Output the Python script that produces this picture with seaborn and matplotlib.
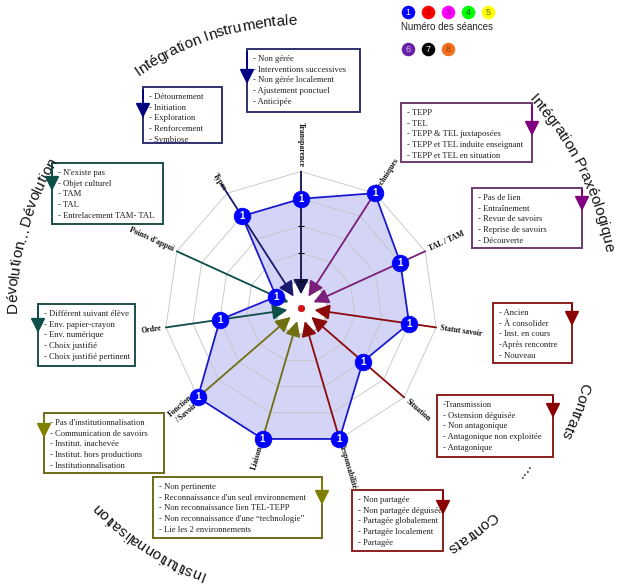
import matplotlib
matplotlib.use("Agg")
import matplotlib.pyplot as plt
import numpy as np
import pandas as pd
import seaborn as sns
from matplotlib.font_manager import FontProperties
from matplotlib.patches import Rectangle, Circle

# radar axes (clockwise from the top) and the values of session 1
axis_names = ["Transparence", "Techniques", "TAL / TAM", "Statut savoir", "Situation",
              "Responsabilité", "Liaisons", "Fonction\n/ Savoir", "Ordre",
              "Points d'appui", "Types"]
seance_1 = [4, 5, 4, 4, 3, 5, 5, 5, 3, 1, 4]
n_levels = 5

# legend of the sessions
seances = [1, 2, 3, 4, 5, 6, 7, 8]
seance_colors = ["#0000ff", "#ff0000", "#ff00ff", "#00ff00", "#ffff00",
                 "#6a1fa8", "#000000", "#f07020"]
seance_txt = ["white", "#900000", "#900090", "#006000", "#707000",
              "#d8b8f0", "white", "#a04000"]

# modalities of each axis (ordered, see the arrows)
items_transparence = ["- Non gérée", "- Interventions successives", "- Non gérée localement",
                      "- Ajustement ponctuel", "- Anticipée"]
items_types = ["- Détournement", "- Initiation", "- Exploration", "- Renforcement", "- Symbiose"]
items_techniques = ["- TEPP", "- TEL", "- TEPP & TEL juxtaposées",
                    "- TEPP et TEL induite enseignant", "- TEPP et TEL en situation"]
items_tal = ["- Pas de lien", "- Entraînement", "- Revue de savoirs", "- Reprise de savoirs",
             "- Découverte"]
items_statut = ["- Ancien", "- À consolider", "- Inst. en cours", "-Après rencontre", "- Nouveau"]
items_situation = ["-Transmission", "- Ostension déguisée", "- Non antagonique",
                   "- Antagonique non exploitée", "- Antagonique"]
items_resp = ["- Non partagée", "- Non partagée déguisée", "- Partagée globalement",
              "- Partagée localement", "- Partagée"]
items_liaisons = ["- Non pertinente", "- Reconnaissance d'un seul environnement",
                  "- Non reconnaissance lien TEL-TEPP",
                  "- Non reconnaissance d'une \u201ctechnologie\u201d", "- Lie les 2 environnements"]
items_fonction = ["- Pas d'institutionnalisation", "- Communication de savoirs",
                  "- Institut. inachevée", "- Institut. hors productions", "- Institutionnalisation"]
items_ordre = ["- Différent suivant élève", "- Env. papier-crayon", "- Env. numérique",
               "- Choix justifié", "- Choix justifié pertinent"]
items_appui = ["- N'existe pas", "- Objet culturel", "- TAM", "- TAL", "- Entrelacement TAM- TAL"]

# curved group titles: text, baseline radius (px), middle angle (deg)
titles = [("Intégration Instrumentale", 283, 108),
          ("Intégration Praxéologique", 309, 26.5),
          ("Contrats", 290, -20.5),
          ("....", 276, -36.5),
          ("Contrats", 279, -52.5),
          ("Institutionnalisation", 281, 237),
          ("Dévolution\u2026Dévolution", 284, 165)]

sns.set_theme(style="white")
plt.rcParams["font.family"] = ["Liberation Sans", "DejaVu Sans"]

W, H = 620, 585
CX, CY = 301, 308          # centre of the radar in pixels
SCALE = 27.3               # pixels per level
L = 6.0

fig = plt.figure(figsize=(6.2, 5.85), dpi=100)
fig.patch.set_facecolor("white")
bg = fig.add_axes([0, 0, 1, 1])
bg.set_xlim(0, W)
bg.set_ylim(H, 0)
bg.axis("off")

half = L * SCALE
ax = fig.add_axes([(CX - half) / W, (H - CY - half) / H, 2 * half / W, 2 * half / H])
ax.set_xlim(-L, L)
ax.set_ylim(-L, L)
ax.axis("off")
ax.patch.set_alpha(0)

n = len(axis_names)
theta = np.radians(90 - np.arange(n) * 360 / n)
grid_c = "#c4c4c4"

# polygon grid
for lev in range(1, n_levels + 1):
    gx = np.append(lev * np.cos(theta), lev * np.cos(theta[0]))
    gy = np.append(lev * np.sin(theta), lev * np.sin(theta[0]))
    ax.plot(gx, gy, color=grid_c, lw=0.6, zorder=1)
for t in theta:
    ax.plot([0, n_levels * np.cos(t)], [0, n_levels * np.sin(t)], color=grid_c, lw=0.6, zorder=1)

# session 1 polygon
vals = np.array(seance_1, dtype=float)
df = pd.DataFrame({"x": vals * np.cos(theta), "y": vals * np.sin(theta)})
closed = pd.concat([df, df.iloc[:1]], ignore_index=True)
ax.fill(closed["x"], closed["y"], color="#d4d4f6", zorder=0.5, lw=0)
sns.lineplot(data=closed, x="x", y="y", sort=False, estimator=None, color="#1a1ad0",
             lw=1.3, ax=ax, zorder=2)

# coloured axes with arrows towards the centre
axis_colors = ["#12124a", "#7a1f7a", "#7a1f7a", "#8b0a0a", "#8b0a0a", "#8b0a0a",
               "#707012", "#707012", "#0f4f4a", "#0f4f4a", "#1a1a70"]
outer_r = [5.0, 5.0, 5.0, 5.0, 5.0, 5.0, 5.0, 5.0, 5.0, 5.0, 5.4]
ax.add_patch(Circle((0, 0), 0.95, facecolor="white", edgecolor="#b4b4b4", lw=0.6, zorder=2.5))
for t, c, ro in zip(theta, axis_colors, outer_r):
    ax.annotate("", xy=(0.5 * np.cos(t), 0.5 * np.sin(t)),
                xytext=(ro * np.cos(t), ro * np.sin(t)),
                arrowprops=dict(arrowstyle="-|>,head_length=0.75,head_width=0.38",
                                color=c, lw=1.3, mutation_scale=12, shrinkA=0, shrinkB=0),
                zorder=3)
for lev in range(1, n_levels):
    ax.plot([lev * np.cos(theta[0])], [lev * np.sin(theta[0])], marker="_", ms=4,
            color="black", mew=0.8, zorder=3)

# axis labels
for name, t in zip(axis_names, theta):
    deg = (np.degrees(t) + 180) % 360 - 180
    r = 5.15
    if -89 < deg < 89:
        rot, ha = deg, "left"
    else:
        rot, ha = deg - 180 if deg > 0 else deg + 180, "right"
    ax.text(r * np.cos(t), r * np.sin(t), name, rotation=rot, rotation_mode="anchor",
            ha=ha, va="center", ma="center", fontsize=5.6, fontweight="bold",
            family=["Liberation Serif", "DejaVu Serif"], color="#111111", zorder=4)

# session markers
sns.scatterplot(data=df, x="x", y="y", s=145, color="#0000ff", edgecolor="#0000ff",
                linewidth=0.5, ax=ax, zorder=5, legend=False)
for x, y in zip(df["x"], df["y"]):
    ax.text(x, y, "1", ha="center", va="center", color="white", fontsize=7,
            fontweight="bold", zorder=6)
ax.scatter([0], [0], s=22, color="#e01010", edgecolor="#a00000", lw=0.4, zorder=6)

# legend
leg_pos = [(408, 12), (428, 12), (448, 12), (468, 12), (488, 12), (408, 49), (428, 49), (448, 49)]
for (px, py), num, c, tc in zip(leg_pos, seances, seance_colors, seance_txt):
    bg.scatter([px], [py], s=95, color=c, lw=0, zorder=3)
    bg.text(px, py + 0.5, str(num), ha="center", va="center", fontsize=6.5, color=tc, zorder=4)
bg.text(401, 27, "Numéro des séances", ha="left", va="center", fontsize=7, color="#222222")

# boxes with the modalities
boxes = [
    (items_transparence, (247, 49, 360, 112), "#303070", "#000080", "left", (52, 84)),
    (items_types, (143, 87, 222, 143), "#303070", "#000080", "left", (90, 118)),
    (items_techniques, (401, 103, 532, 162), "#6e3a6e", "#800080", "right", (106, 136)),
    (items_tal, (472, 188, 582, 248), "#6e3a6e", "#800080", "right", (190, 211)),
    (items_statut, (493, 303, 572, 363), "#8b2020", "#8b0000", "right", (304, 326)),
    (items_situation, (437, 395, 553, 457), "#8b2020", "#8b0000", "right", (397, 418)),
    (items_resp, (352, 490, 443, 551), "#8b2020", "#8b0000", "right", (491, 515)),
    (items_liaisons, (153, 477, 322, 538), "#6b6b18", "#808000", "right", (480, 505)),
    (items_fonction, (44, 413, 164, 473), "#6b6b18", "#808000", "left", (416, 438)),
    (items_ordre, (38, 304, 135, 366), "#1f4f4f", "#0f4f4a", "left", (307, 333)),
    (items_appui, (52, 163, 163, 224), "#1f4f4f", "#0f4f4a", "left", (166, 191)),
]
for items, (x0, y0, x1, y1), ec, ac, side, (ya, yb) in boxes:
    bg.add_patch(Rectangle((x0, y0), x1 - x0, y1 - y0, facecolor="white", edgecolor=ec,
                           lw=1.4, zorder=2))
    for i, s in enumerate(items):
        bg.text(x0 + 6, y0 + 10 + i * 10.7, s, ha="left", va="center", fontsize=6.2,
                family=["Liberation Serif", "DejaVu Serif"], color="#222222", zorder=3)
    xa = x0 if side == "left" else x1
    bg.annotate("", xy=(xa, yb), xytext=(xa, ya),
                arrowprops=dict(arrowstyle="-|>,head_length=0.8,head_width=0.4", color=ac,
                                lw=1.3, mutation_scale=11, shrinkA=0, shrinkB=0), zorder=4)

# curved titles, written clockwise with the tops outward
renderer = fig.canvas.get_renderer()
fp = FontProperties(family="Liberation Sans", size=11)
bar_w = renderer.get_text_width_height_descent("|", fp, ismath=False)[0]


def adv(s):
    return renderer.get_text_width_height_descent(s + "|", fp, ismath=False)[0] - bar_w


for text, r, mid in titles:
    total = adv(text)
    for i, ch in enumerate(text):
        if ch == " ":
            continue
        pos = adv(text[:i]) + adv(ch) / 2
        th = np.radians(mid) + (total / 2 - pos) / r
        bg.text(CX + r * np.cos(th), CY - r * np.sin(th), ch, rotation=np.degrees(th) - 90,
                rotation_mode="anchor", ha="center", va="baseline", fontproperties=fp,
                color="#111111", zorder=3)

fig.savefig("out.png", dpi=100)
